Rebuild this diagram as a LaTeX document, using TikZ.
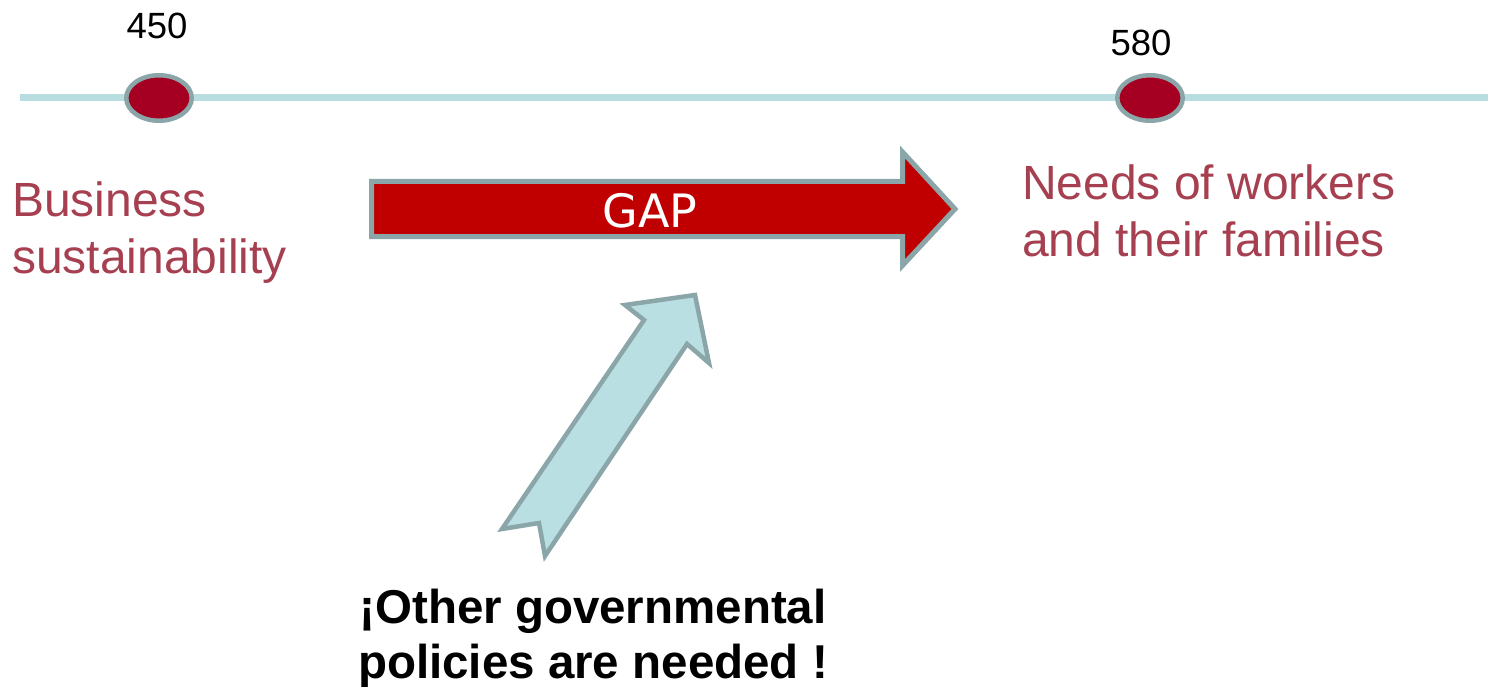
\documentclass[tikz,border=0pt]{standalone}
\usepackage{fontspec}
\setmainfont{Liberation Sans}
\newfontfamily\gapfont{DejaVu Sans}
\usetikzlibrary{shapes.geometric}
\definecolor{trackblue}{RGB}{183,221,224}
\definecolor{rimgrey}{RGB}{139,166,168}
\definecolor{stopred}{RGB}{165,0,33}
\definecolor{gapred}{RGB}{192,0,0}
\definecolor{pushblue}{RGB}{186,223,226}
\definecolor{goalred}{RGB}{166,64,80}
\tikzset{
  stopdot/.style={ellipse, draw=rimgrey, line width=4.5pt, fill=stopred,
    minimum width=65.5pt, minimum height=45.5pt, inner sep=0pt},
  numlabel/.style={font=\fontsize{36.5}{44}\selectfont, inner sep=0pt, anchor=base},
  goallabel/.style={font=\fontsize{48}{57}\selectfont, text=goalred,
    align=left, inner sep=0pt, anchor=base west},
}

\begin{document}
\begin{tikzpicture}[x=1pt,y=-1pt]
	%%%%% frame %%%%%
	\useasboundingbox (0,0) rectangle (1488,687);
	\def\ly{98}
	\def\shl{371.5}
	\def\sht{181.5}
	\def\shb{236.5}
	\def\hdx{902.5}
	\def\hdt{152}
	\def\hdb{265.5}
	\def\tipx{955}

	%%%%% scale line %%%%%
	\coordinate (trackL) at (20,\ly);
	\coordinate (trackR) at (1488,\ly);
	\draw[trackblue, line width=7pt] (trackL) -- (trackR);

	\node[stopdot] (low) at (159,\ly) {};
	\node[stopdot] (high) at (1150,\ly) {};
	\node[numlabel] (lowval) at (157,39) {450};
	\node[numlabel] (highval) at (1141,56) {580};

	% base anchor of a two-line node sits on its last line
	\node[goallabel] (business) at (12,273) {Business\\sustainability};
	\node[goallabel] (needs) at (1022,256) {Needs of workers\\and their families};

	%%%%% gap arrow %%%%%
	\draw[rimgrey, fill=gapred, line width=5pt, line join=miter]
		(\shl,\sht) -- (\hdx,\sht) -- (\hdx,\hdt) -- (\tipx,209)
		-- (\hdx,\hdb) -- (\hdx,\shb) -- (\shl,\shb) -- cycle;
	\node[font=\gapfont\fontsize{46}{54}\selectfont, text=white, inner sep=0pt, anchor=base]
		(gap) at (650,227) {GAP};

	%%%%% policy arrow %%%%%
	\draw[rimgrey, fill=pushblue, line width=4.5pt, line join=miter]
		(695,295) -- (709,363) -- (687,344) -- (545,556) -- (539,523)
		-- (502,529) -- (644,320) -- (625,305) -- cycle;
	\node[font=\bfseries\fontsize{47.5}{55}\selectfont, align=center, inner sep=0pt, anchor=base]
		(policies) at (593,678) {¡Other governmental\\policies are needed !};
\end{tikzpicture}
\end{document}
